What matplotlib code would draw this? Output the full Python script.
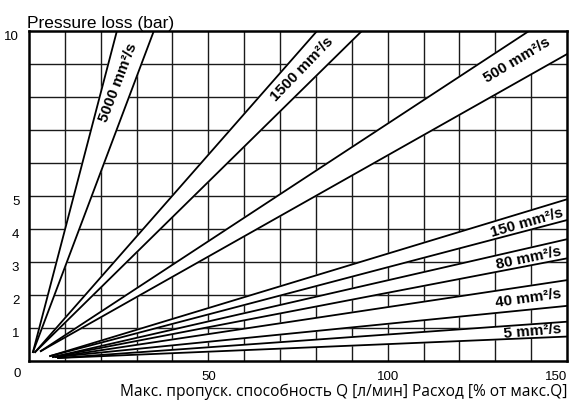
import numpy as np
import matplotlib
matplotlib.use("Agg")
import matplotlib.pyplot as plt
from matplotlib.transforms import ScaledTranslation

# viscosity bands (pressure loss vs flow)
band_labels = ["5000 mm²/s", "1500 mm²/s", "500 mm²/s", "150 mm²/s", "80 mm²/s", "40 mm²/s", "5 mm²/s"]
apex_x = [1.1, 1.7, 3.3, 5.9, 6.7, 7.5, 8.1]
apex_y = [0.27, 0.27, 0.30, 0.15, 0.12, 0.12, 0.09]
# end point of the steeper (upper) line of each band
upper_end_x = [24.5, 80.3, 139.4, 150, 150, 150, 150]
upper_end_y = [10, 10, 10, 4.9, 3.69, 2.45, 1.19]
# end point of the flatter (lower) line of each band
lower_end_x = [34.8, 92.8, 150, 150, 150, 150, 150]
lower_end_y = [10, 10, 9.30, 4.27, 3.11, 1.67, 0.74]
# where the labels sit, and their angle on screen
label_x = [25.0, 76.0, 136.0, 138.8, 139.4, 139.1, 140.5]
label_y = [8.42, 8.85, 9.12, 4.20, 3.12, 1.90, 0.90]
label_rot = [69, 46, 31, 16, 12, 8, 5]

x_ticks = [50, 100, 150]
y_ticks = [1, 2, 3, 4, 5, 10]

fig = plt.figure(figsize=(5.69, 4.01), dpi=100)
ax = fig.add_axes([0.051, 0.0998, 0.9455, 0.8229])
ax.set_xlim(0, 150)
ax.set_ylim(0, 10)

# grid drawn first so the white bands hide it
for gx in range(10, 150, 10):
    ax.axvline(gx, color="#1a1a1a", lw=1.0, zorder=1)
for gy in range(1, 10):
    ax.axhline(gy, color="#1a1a1a", lw=1.0, zorder=1)

for i in range(len(band_labels)):
    ax0, ay0 = apex_x[i], apex_y[i]
    # stretch each line past the frame, the axes clip it
    ux = ax0 + 3 * (upper_end_x[i] - ax0)
    uy = ay0 + 3 * (upper_end_y[i] - ay0)
    lx = ax0 + 3 * (lower_end_x[i] - ax0)
    ly = ay0 + 3 * (lower_end_y[i] - ay0)
    ax.fill([ax0, ux, lx], [ay0, uy, ly], color="white", zorder=2)
    ax.plot([ax0, ux], [ay0, uy], color="black", lw=1.3, zorder=3)
    ax.plot([ax0, lx], [ay0, ly], color="black", lw=1.3, zorder=3)
    ax.text(label_x[i], label_y[i], band_labels[i], rotation=label_rot[i],
            ha="center", va="center", rotation_mode="anchor",
            fontsize=11, fontweight="bold", family=["Liberation Sans", "DejaVu Sans"], zorder=4)

for s in ax.spines.values():
    s.set_linewidth(1.8)
    s.set_zorder(5)

ax.set_xticks(x_ticks)
ax.set_xticklabels([str(v) for v in x_ticks])
ax.set_yticks(y_ticks)
ax.set_yticklabels([str(v) for v in y_ticks])
ax.tick_params(length=0, labelsize=9.5, pad=7)
for lab in ax.get_xticklabels() + ax.get_yticklabels():
    lab.set_family("Liberation Sans")
# y labels sit a little below their grid line
for lab in ax.get_yticklabels():
    lab.set_transform(lab.get_transform() + ScaledTranslation(0, -0.05, fig.dpi_scale_trans))
# last x label is flush with the right edge
ax.get_xticklabels()[-1].set_horizontalalignment("right")

ax.text(-0.015, -0.04, "0", transform=ax.transAxes, ha="right", va="center",
        fontsize=9.5, family="Liberation Sans")

fig.text(0.047, 0.93, "Pressure loss (bar)", ha="left", va="baseline",
         fontsize=12.5, family="Liberation Sans")
fig.text(0.9965, 0.0125, "Макс. пропуск. способность Q [л/мин] Расход [% от макс.Q]",
         ha="right", va="baseline", fontsize=11.2, family="Open Sans")

fig.savefig("out.png", dpi=100)
